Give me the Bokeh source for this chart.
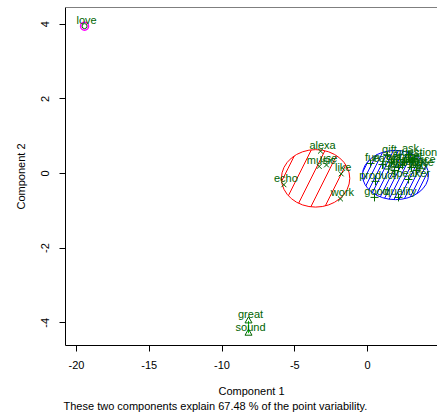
from bokeh.plotting import figure
from bokeh.models import ColumnDataSource, FixedTicker, Range1d, Span, Title
from bokeh.core.properties import value
from bokeh.embed import file_html
from bokeh.resources import INLINE

# ---- data ----
words = ["love",
         "great", "sound",
         "alexa", "music", "use", "like", "echo", "work",
         "gift", "ask", "question", "fun", "easy", "set", "time", "home",
         "smart", "device", "dot", "play", "price", "one", "get", "just",
         "product", "speaker", "good", "quality"]
comp1 = [-19.45,
         -8.18, -8.18,
         -3.23, -3.32, -2.82, -1.81, -5.75, -1.86,
         1.37, 2.82, 3.22, 0.21, 1.03, 1.65, 2.13, 2.54,
         3.02, 3.45, 1.86, 3.37, 3.60, 2.40, 3.10, 1.45,
         0.55, 2.82, 0.48, 2.13]
comp2 = [3.95,
         -3.95, -4.28,
         0.60, 0.19, 0.23, -0.01, -0.30, -0.68,
         0.48, 0.51, 0.40, 0.27, 0.24, 0.30, 0.16, 0.30,
         0.16, 0.21, 0.08, 0.08, 0.13, 0.22, 0.33, 0.12,
         -0.21, -0.16, -0.64, -0.64]
cluster = [4,
           3, 3,
           1, 1, 1, 1, 1, 1,
           2, 2, 2, 2, 2, 2, 2, 2,
           2, 2, 2, 2, 2, 2, 2, 2,
           2, 2, 2, 2]

# cluster ellipses: centre x, centre y, full width, full height
ell_x = [-3.57, 1.92]
ell_y = [-0.13, -0.04]
ell_w = [4.70, 4.54]
ell_h = [1.54, 1.32]
ell_color = ["#FF0000", "#0000FF"]
ell_hatch = [28, 10]

x_ticks = [-20, -15, -10, -5, 0]
y_ticks = [-4, -2, 0, 2, 4]
subtitle = "These two components explain 67.48 % of the point variability."

FONT = "Liberation Sans"
TXT = "#006400"

p = figure(width=437, height=414, output_backend="svg", toolbar_location=None,
           x_range=Range1d(-20.76, 4.81), y_range=Range1d(-4.61, 4.45),
           min_border_left=65, min_border_right=0, min_border_top=7,
           min_border_bottom=69, background_fill_color="white",
           border_fill_color="white")
p.grid.visible = False
p.outline_line_color = None

# ellipses with hatching
for i in range(len(ell_x)):
    p.ellipse(x=[ell_x[i]], y=[ell_y[i]], width=[ell_w[i]], height=[ell_h[i]],
              fill_color=None, line_color=ell_color[i], line_width=1,
              hatch_pattern="/", hatch_color=ell_color[i], hatch_scale=ell_hatch[i],
              hatch_weight=1)

src = ColumnDataSource(dict(x=comp1, y=comp2, w=words, c=cluster))

def sub(k):
    idx = [i for i, c in enumerate(cluster) if c == k]
    return ColumnDataSource(dict(x=[comp1[i] for i in idx], y=[comp2[i] for i in idx],
                                 w=[words[i] for i in idx]))

s1, s2, s3, s4 = sub(1), sub(2), sub(3), sub(4)
# degenerate cluster ellipses
p.line(x="x", y="y", source=s3, line_color="#00CC00", line_width=1)
p.scatter(x="x", y="y", source=s4, marker="circle", size=8, fill_color=None,
          line_color="#FF00FF", line_width=1.5)

p.scatter(x="x", y="y", source=s1, marker="x", size=7, line_color=TXT, line_width=1)
p.scatter(x="x", y="y", source=s2, marker="cross", size=8, line_color=TXT, line_width=1)
p.scatter(x="x", y="y", source=s3, marker="triangle", size=7, fill_color=None,
          line_color=TXT, line_width=1)
p.scatter(x="x", y="y", source=s4, marker="circle", size=5, fill_color=None,
          line_color=TXT, line_width=1)

p.text(x="x", y="y", text="w", source=src, text_font=value(FONT),
       text_font_size="11px", text_color=TXT, text_align="center",
       text_baseline="middle", x_offset=2, y_offset=-6.5)

# top edge of box
p.add_layout(Span(location=4.45, dimension="width", line_color="black", line_width=1))

for ax in (p.xaxis[0], p.yaxis[0]):
    ax.major_tick_in = 0
    ax.major_tick_out = 6
    ax.minor_tick_line_color = None
    ax.axis_line_color = "black"
    ax.major_tick_line_color = "black"
    ax.major_label_text_font = FONT
    ax.major_label_text_font_size = "11px"
    ax.major_label_text_color = "black"
    ax.axis_label_text_font = FONT
    ax.axis_label_text_font_size = "11px"
    ax.axis_label_text_font_style = "normal"
    ax.axis_label_text_color = "black"

p.xaxis.ticker = FixedTicker(ticks=x_ticks)
p.yaxis.ticker = FixedTicker(ticks=y_ticks)
p.xaxis.major_label_overrides = {t: str(t) for t in x_ticks}
p.yaxis.major_label_overrides = {t: str(t) for t in y_ticks}
p.xaxis.axis_label = "Component 1"
p.yaxis.axis_label = "Component 2"
p.xaxis.major_label_standoff = 9
p.xaxis.axis_label_standoff = 13
p.yaxis.major_label_orientation = "vertical"
p.yaxis.major_label_standoff = 10
p.yaxis.axis_label_standoff = 12

p.add_layout(Title(text=subtitle, align="left", text_font=FONT, text_font_size="11px",
                   text_font_style="normal", text_color="black", standoff=-4,
                   offset=-2), "below")

open("out.html", "w").write(file_html(p, INLINE))
